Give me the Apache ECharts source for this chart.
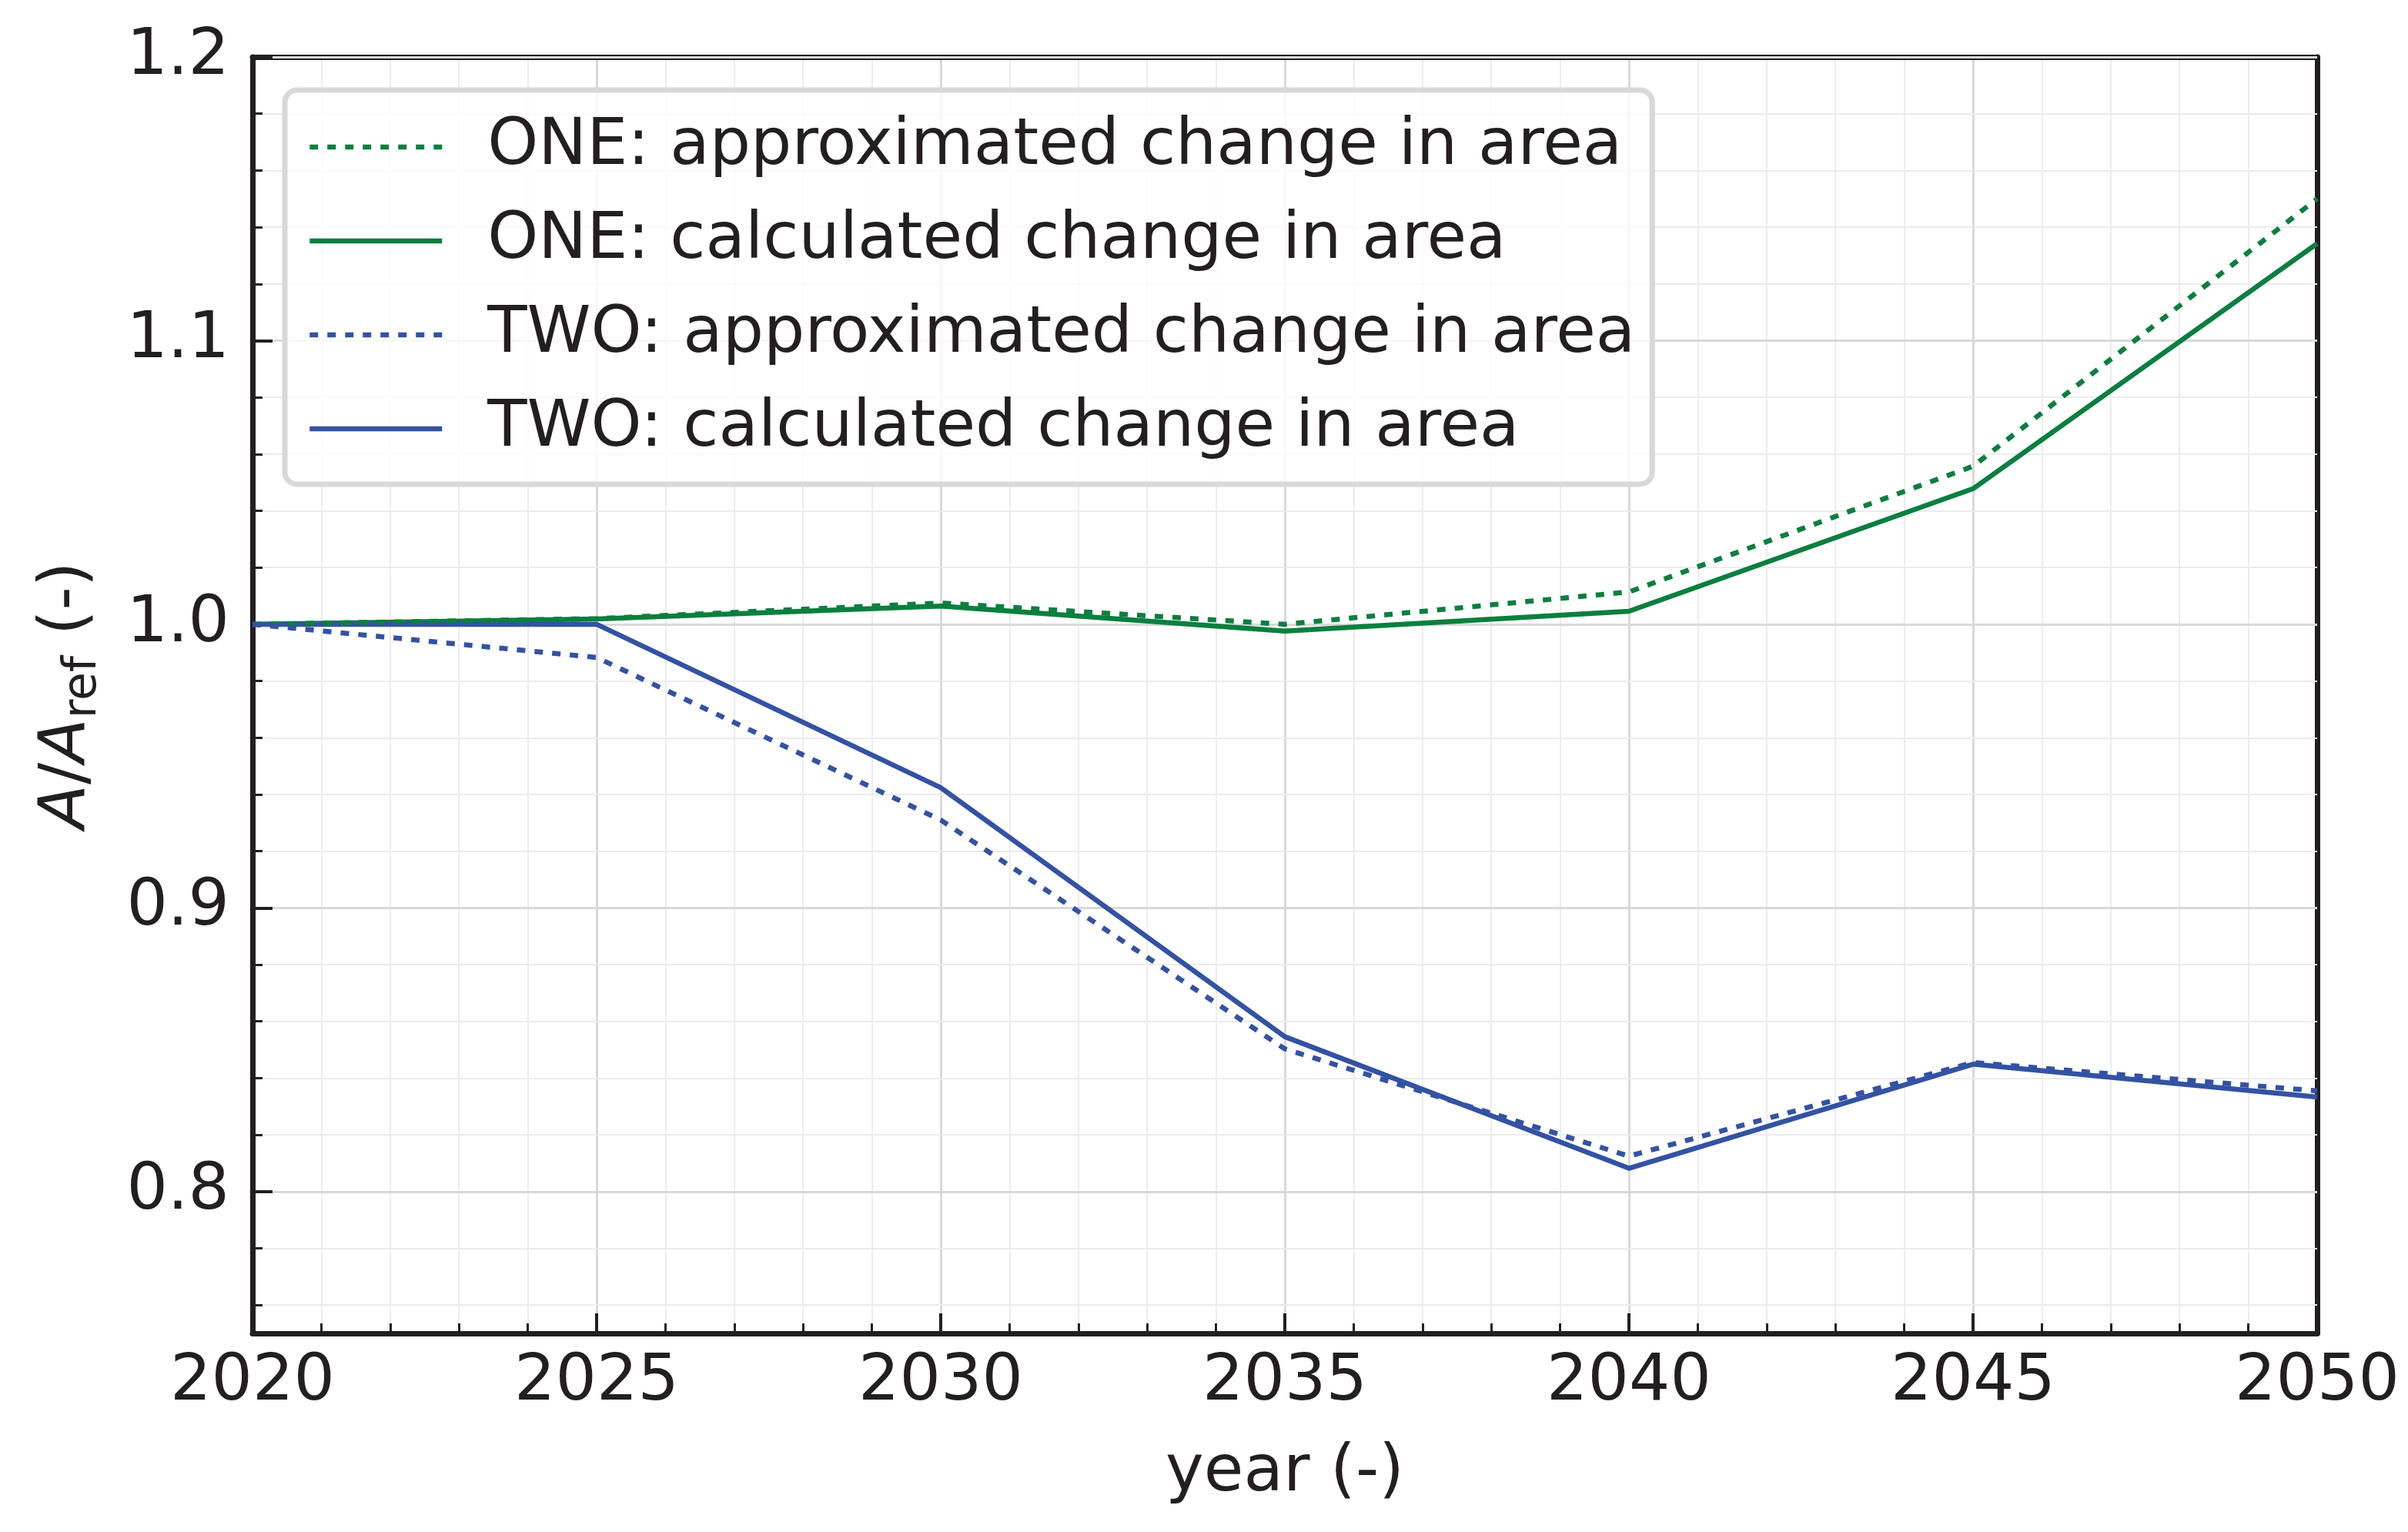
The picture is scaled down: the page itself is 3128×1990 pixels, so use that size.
<!DOCTYPE html>
<html>
<head>
<meta charset="utf-8">
<script src="https://cdn.jsdelivr.net/npm/echarts@6/dist/echarts.min.js"></script>
<style>
html,body{margin:0;padding:0;background:#fff;}
#c{width:3128px;height:1990px;}
</style>
</head>
<body>
<div id="c"></div>
<script>
const years = [2020, 2025, 2030, 2035, 2040, 2045, 2050];
const oneApprox = [1.000, 1.002, 1.0075, 1.000, 1.0114, 1.0557, 1.150];
const oneCalc = [1.000, 1.0019, 1.0064, 0.9976, 1.0046, 1.0478, 1.1342];
const twoApprox = [1.000, 0.9883, 0.931, 0.8503, 0.8125, 0.8455, 0.8355];
const twoCalc = [1.000, 1.000, 0.9424, 0.8546, 0.8082, 0.8449, 0.8333];
const seriesNames = [
  'ONE: approximated change in area',
  'ONE: calculated change in area',
  'TWO: approximated change in area',
  'TWO: calculated change in area'
];
const xRange = [2020, 2050];
const xMajorStep = 5;
const yRange = [0.75, 1.2];
const yMajorTicks = [0.8, 0.9, 1.0, 1.1, 1.2];
const yMinorTicks = [0.76, 0.78, 0.82, 0.84, 0.86, 0.88, 0.92, 0.94, 0.96, 0.98,
                     1.02, 1.04, 1.06, 1.08, 1.12, 1.14, 1.16, 1.18];

const GREEN = '#0b7f3f';
const BLUE = '#3352a4';
const INK = '#231f20';
const FONT = 'DejaVu Sans';
const FS = 84;

function pairs(vals) { return years.map((y, i) => [y, vals[i]]); }

function mkSeries(name, vals, color, dotted) {
  return {
    name: name,
    type: 'line',
    data: pairs(vals),
    symbol: 'none',
    showSymbol: false,
    color: color,
    lineStyle: { color: color, width: 6.5, type: dotted ? [11, 12] : 'solid', cap: 'butt' },
    z: dotted ? 4 : 3,
    animation: false
  };
}

const chart = echarts.init(document.getElementById('c'), null, { renderer: 'canvas' });
chart.setOption({
  backgroundColor: '#ffffff',
  animation: false,
  textStyle: { fontFamily: FONT, color: INK },
  grid: { left: 328, right: 118, top: 74, bottom: 258, containLabel: false },
  legend: {
    orient: 'vertical',
    left: 370,
    top: 117,
    padding: [32, 22, 30, 29],
    itemGap: 38,
    itemWidth: 172,
    itemHeight: 40,
    backgroundColor: 'rgba(255,255,255,0.8)',
    borderColor: '#d9d9db',
    borderWidth: 7,
    borderRadius: 16,
    itemStyle: { opacity: 0, borderWidth: 0 },
    lineStyle: { width: 6.5 },
    textStyle: { fontFamily: FONT, fontSize: FS, color: INK, padding: [0, 0, 0, 54] },
    data: seriesNames
  },
  xAxis: [{
    type: 'value',
    min: xRange[0], max: xRange[1], interval: xMajorStep,
    name: 'year (-)',
    nameLocation: 'middle',
    nameGap: 140,
    nameTextStyle: { fontFamily: FONT, fontSize: FS, color: INK },
    axisLine: { show: true, onZero: false, lineStyle: { color: INK, width: 7 } },
    axisTick: { show: true, inside: true, length: 26, lineStyle: { color: INK, width: 4 } },
    minorTick: { show: true, splitNumber: 5, length: 13, lineStyle: { color: INK, width: 3 } },
    axisLabel: { fontFamily: FONT, fontSize: FS, color: INK, margin: 22, formatter: v => String(v) },
    splitLine: { show: true, lineStyle: { color: '#d9d9d9', width: 3 } },
    minorSplitLine: { show: true, lineStyle: { color: '#ececec', width: 2 } }
  }, {
    type: 'value', position: 'top',
    min: xRange[0], max: xRange[1], interval: xMajorStep,
    axisLine: { show: true, onZero: false, lineStyle: { color: INK, width: 7 } },
    axisTick: { show: false }, axisLabel: { show: false }, splitLine: { show: false }
  }],
  yAxis: [{
    type: 'value',
    min: yRange[0], max: yRange[1],
    name: '{it|A}{n|/}{it|A}{sub|ref}{n| (-)}',
    nameLocation: 'middle',
    nameGap: 190,
    nameTextStyle: {
      fontFamily: FONT, fontSize: FS, color: INK,
      rich: {
        it: { fontFamily: FONT, fontSize: FS, fontStyle: 'italic', color: INK, lineHeight: 100 },
        n: { fontFamily: FONT, fontSize: FS, color: INK, lineHeight: 100 },
        sub: { fontFamily: FONT, fontSize: 60, color: INK, lineHeight: 64, verticalAlign: 'bottom' }
      }
    },
    axisLine: { show: true, onZero: false, lineStyle: { color: INK, width: 7 } },
    axisTick: { show: true, inside: true, length: 26, customValues: yMajorTicks, lineStyle: { color: INK, width: 4 } },
    minorTick: { show: false },
    axisLabel: {
      fontFamily: FONT, fontSize: FS, color: INK, margin: 30,
      customValues: yMajorTicks,
      formatter: v => v.toFixed(1)
    },
    splitLine: { show: true, lineStyle: { color: '#d9d9d9', width: 3 } },
    minorSplitLine: { show: false },
    z: 2
  }, {
    type: 'value', position: 'left',
    min: yRange[0], max: yRange[1],
    axisLine: { show: false },
    axisTick: { show: true, inside: true, length: 13, customValues: yMinorTicks, lineStyle: { color: INK, width: 3 } },
    axisLabel: { show: false, customValues: yMinorTicks },
    splitLine: { show: true, lineStyle: { color: '#ececec', width: 2 } },
    z: 1
  }, {
    type: 'value', position: 'right',
    min: yRange[0], max: yRange[1],
    axisLine: { show: true, onZero: false, lineStyle: { color: INK, width: 7 } },
    axisTick: { show: false }, axisLabel: { show: false }, splitLine: { show: false }
  }],
  series: [
    mkSeries(seriesNames[0], oneApprox, GREEN, true),
    mkSeries(seriesNames[1], oneCalc, GREEN, false),
    mkSeries(seriesNames[2], twoApprox, BLUE, true),
    mkSeries(seriesNames[3], twoCalc, BLUE, false)
  ]
});
</script>
</body>
</html>
